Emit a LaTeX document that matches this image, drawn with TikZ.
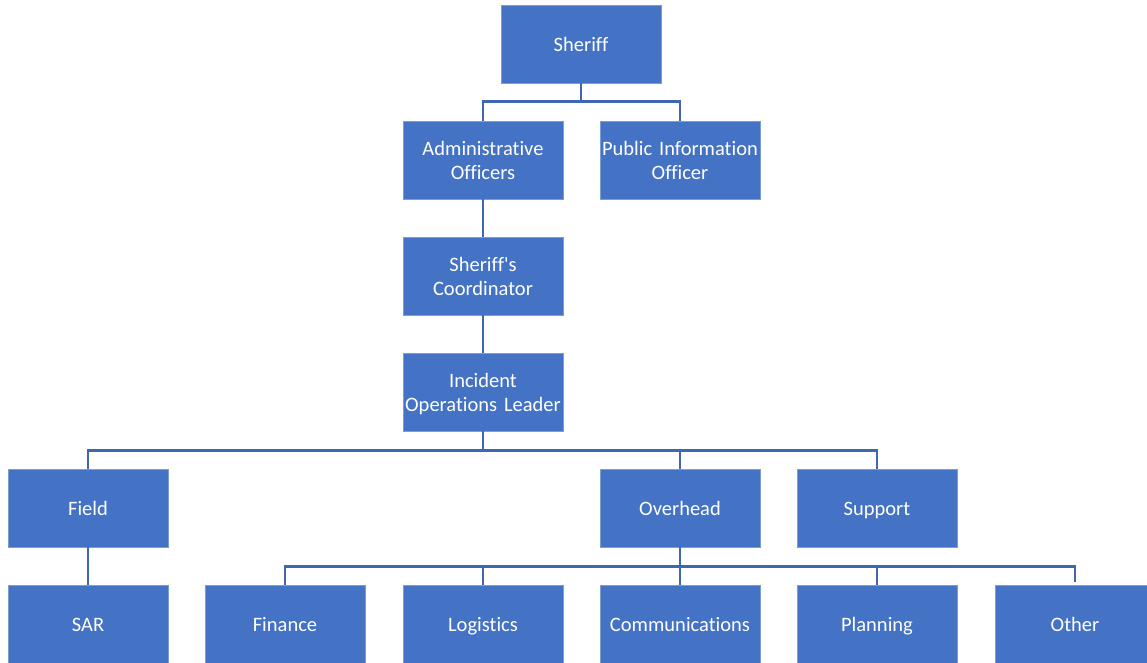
\documentclass[tikz,border=0pt]{standalone}
\usepackage{fontspec}
\setmainfont{Carlito}[Ligatures={NoCommon}]
\usetikzlibrary{positioning}
\definecolor{boxblue}{RGB}{68,114,196}
\definecolor{lineblue}{RGB}{62,103,178}
\newcommand{\unitstrut}{\rule[-4.5pt]{0pt}{23.6pt}}
\tikzset{
  unit/.style={rectangle,fill=boxblue,draw=boxblue!70!white,line width=0.6pt,
    minimum width=160pt,minimum height=78pt,text width=158pt,inner sep=0pt,
    align=center,text=white,font=\fontsize{20.5}{24}\selectfont,
    execute at begin node=\unitstrut,execute at end node=\unitstrut},
  link/.style={draw=lineblue,line width=2.8pt,shorten <=3pt,shorten >=3pt}
}
\begin{document}
\begin{tikzpicture}[x=1pt,y=-1pt]
\useasboundingbox (0,0) rectangle (1147,662);
% top of the chain
\node[unit] (sheriff) at (581,44) {Sheriff};
\node[unit] (admin) at (483,160) {Administrative\\Officers};
\node[unit] (pio) at (680,160) {Public Information\\Officer};
\node[unit] (coord) at (483,276) {Sheriff\textquotesingle s\\Coordinator};
\node[unit] (iol) at (483,392) {Incident\\Operations Leader};
% sections
\node[unit] (field) at (88,508) {Field};
\node[unit] (overhead) at (680,508) {Overhead};
\node[unit] (support) at (877,508) {Support};
% units
\node[unit] (sar) at (88,624) {SAR};
\node[unit] (finance) at (285,624) {Finance};
\node[unit] (logistics) at (483,624) {Logistics};
\node[unit] (comms) at (680,624) {Communications};
\node[unit] (planning) at (877,624) {Planning};
\node[unit] (other) at (1075,624) {Other};
\path[link]
  (sheriff.south) -- ++(0,18) -| (admin.north)
  (sheriff.south) -- ++(0,18) -| (pio.north)
  (admin) -- (coord)
  (coord) -- (iol)
  (iol.south) -- ++(0,19) -| (field.north)
  (iol.south) -- ++(0,19) -| (overhead.north)
  (iol.south) -- ++(0,19) -| (support.north)
  (field) -- (sar)
  (overhead.south) -- ++(0,19) -| (finance.north)
  (overhead.south) -- ++(0,19) -| (logistics.north)
  (overhead.south) -- (comms.north)
  (overhead.south) -- ++(0,19) -| (planning.north)
  (overhead.south) -- ++(0,19) -| (other.north);
\end{tikzpicture}
\end{document}
